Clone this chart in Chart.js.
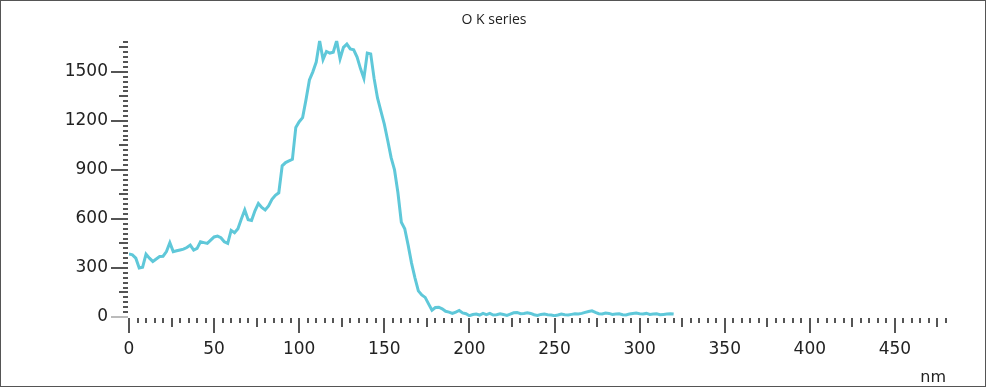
<!DOCTYPE html>
<html>
<head>
<meta charset="utf-8">
<script src="https://cdn.jsdelivr.net/npm/chart.js@4.4.1/dist/chart.umd.min.js"></script>
<style>
  html, body { margin: 0; padding: 0; background: #fff; }
  #wrap { position: relative; width: 988px; height: 388px; }
  #frame { position: absolute; left: 0; top: 0; width: 986px; height: 387px; box-sizing: border-box; border: 1px solid #555; pointer-events: none; }
  canvas { position: absolute; left: 0; top: 0; }
</style>
</head>
<body>
<div id="wrap">
  <canvas id="c" width="988" height="388"></canvas>
  <div id="frame"></div>
</div>
<script>
// ---- data ----
const chartTitle = 'O K series';
const xAxisTitle = 'nm';
const depthNm = [
  0,2,4,6,8,10,12,14,16,18,20,22,24,26,28,30,32,34,36,38,
  40,42,44,46,48,50,52,54,56,58,60,62,64,66,68,70,72,74,76,78,
  80,82,84,86,88,90,92,94,96,98,100,102,104,106,108,110,112,114,116,118,
  120,122,124,126,128,130,132,134,136,138,140,142,144,146,148,150,152,154,156,158,
  160,162,164,166,168,170,172,174,176,178,180,182,184,186,188,190,192,194,196,198,
  200,202,204,206,208,210,212,214,216,218,220,222,224,226,228,230,232,234,236,238,
  240,242,244,246,248,250,252,254,256,258,260,262,264,266,268,270,272,274,276,278,
  280,282,284,286,288,290,292,294,296,298,300,302,304,306,308,310,312,314,316,318,320
];
const oKCounts = [
  385,380,360,300,305,385,360,340,355,370,372,400,455,400,405,410,415,425,440,410,
  420,460,455,450,470,490,495,485,460,450,530,515,540,600,655,595,590,650,695,670,
  655,680,720,745,760,925,945,955,965,1160,1195,1220,1330,1450,1500,1560,1690,1575,1625,1615,
  1620,1690,1580,1650,1670,1640,1635,1590,1520,1460,1615,1610,1460,1340,1260,1180,1080,975,900,760,
  580,540,440,330,240,160,135,120,80,42,58,60,50,35,30,22,30,40,25,20,
  8,15,18,12,22,15,22,12,14,20,15,10,18,26,28,20,22,26,22,14,
  10,16,18,14,12,8,12,18,14,12,16,20,18,22,28,34,38,28,20,18,
  24,22,16,18,20,14,12,18,22,24,20,18,22,16,18,20,14,16,18,20,18
];
const xMin = 0, xMax = 480, xMajor = 50, xMedium = 25, xMinor = 5;
const yMin = 0, yMax = 1690, yMajor = 300, yMedium = 150, yMinor = 30;

const labelFont = { family: 'DejaVu Sans', size: 17 };

const tickMarks = {
  id: 'tickMarks',
  beforeDatasetsDraw(chart) {
    const { ctx, chartArea: a, scales: { x, y } } = chart;
    ctx.save();
    ctx.strokeStyle = '#555';
    ctx.lineWidth = 2;
    for (let v = xMin; v <= xMax; v += xMinor) {
      const px = Math.round(x.getPixelForValue(v));
      const len = v % xMajor === 0 ? 15 : (v % xMedium === 0 ? 9 : 5);
      ctx.beginPath();
      ctx.moveTo(px, a.bottom + 1);
      ctx.lineTo(px, a.bottom + 1 + len);
      ctx.stroke();
    }
    for (let v = yMin; v <= yMax; v += yMinor) {
      const py = Math.round(y.getPixelForValue(v));
      const len = v % yMajor === 0 ? 17 : (v % yMedium === 0 ? 9 : 5);
      ctx.strokeStyle = v === 0 ? '#bbb' : '#555';
      ctx.beginPath();
      ctx.moveTo(a.left - 1, py);
      ctx.lineTo(a.left - 1 - len, py);
      ctx.stroke();
    }
    ctx.restore();
  }
};

new Chart(document.getElementById('c'), {
  type: 'line',
  data: {
    datasets: [{
      label: chartTitle,
      data: depthNm.map((d, i) => ({ x: d, y: oKCounts[i] })),
      borderColor: '#5fc8d9',
      borderWidth: 3,
      pointRadius: 0,
      tension: 0,
      fill: false
    }]
  },
  options: {
    responsive: false,
    animation: false,
    events: [],
    layout: { padding: { left: 42, right: 42, top: 0, bottom: 0 } },
    plugins: {
      legend: { display: false },
      tooltip: { enabled: false },
      title: {
        display: true,
        text: chartTitle,
        color: '#222',
        font: { family: 'Open Sans', size: 14, weight: 'normal' },
        padding: { top: 12, bottom: 12 }
      }
    },
    scales: {
      x: {
        type: 'linear',
        min: xMin, max: xMax,
        afterFit(s) { s.height = 71; },
        border: { display: false },
        grid: { display: true, drawOnChartArea: false, drawTicks: true, tickLength: 16, color: 'transparent', tickColor: 'transparent' },
        ticks: { stepSize: xMajor, includeBounds: false, autoSkip: false, maxRotation: 0, padding: 6, color: '#222', font: labelFont, callback: v => String(v) },
        title: { display: true, text: xAxisTitle, align: 'end', color: '#222', font: { family: 'DejaVu Sans', size: 16 }, padding: { top: 0, bottom: 1 } }
      },
      y: {
        type: 'linear',
        min: yMin, max: yMax,
        afterFit(s) { s.width = 87; },
        border: { display: false },
        grid: { display: true, drawOnChartArea: false, drawTicks: true, tickLength: 17, color: 'transparent', tickColor: 'transparent' },
        ticks: { stepSize: yMajor, includeBounds: false, padding: 4, color: '#222', font: labelFont, callback: v => String(v) }
      }
    }
  },
  plugins: [tickMarks]
});
</script>
</body>
</html>
